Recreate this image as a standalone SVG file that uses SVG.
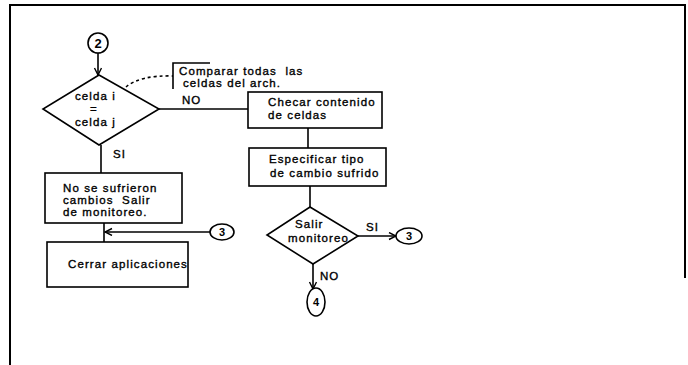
<svg xmlns="http://www.w3.org/2000/svg" width="688" height="365" viewBox="0 0 688 365">
<defs>
<style>
.ln{stroke:#000;stroke-width:1.6;fill:none}
.sh{stroke:#000;stroke-width:1.6;fill:#fff}
.t{font-family:"Liberation Sans",Arial,sans-serif;font-size:11.5px;letter-spacing:1.1px;fill:#000;stroke:#000;stroke-width:0.35}
.lb{font-family:"Liberation Sans",Arial,sans-serif;font-size:11.5px;letter-spacing:1px;fill:#000;stroke:#000;stroke-width:0.35}
.c{font-family:"Liberation Sans",Arial,sans-serif;font-weight:bold;fill:#000;text-anchor:middle}
</style>
<marker id="ar" markerWidth="9" markerHeight="9" refX="8" refY="4" orient="auto" markerUnits="userSpaceOnUse">
<path d="M1,0.5 L8,4 L1,7.5" fill="none" stroke="#000" stroke-width="1.4"/>
</marker>
</defs>
<rect width="688" height="365" fill="#fff"/>
<path d="M10,365 V5 H685 V278" fill="none" stroke="#000" stroke-width="2"/>

<g id="connectors">
<line class="ln" x1="98" y1="53" x2="98" y2="75" marker-end="url(#ar)"/>
<line class="ln" x1="159" y1="109" x2="248" y2="109"/>
<path class="ln" d="M126,87 Q140,75 173,76" stroke-dasharray="3,3" stroke-width="1.2"/>
<line class="ln" x1="308" y1="128" x2="308" y2="148"/>
<line class="ln" x1="310" y1="186" x2="310" y2="207"/>
<line class="ln" x1="358" y1="236" x2="396" y2="236" marker-end="url(#ar)"/>
<line class="ln" x1="313" y1="264" x2="313" y2="289" marker-end="url(#ar)"/>
<line class="ln" x1="101" y1="145" x2="101" y2="173"/>
<line class="ln" x1="104" y1="223" x2="104" y2="242"/>
<line class="ln" x1="210" y1="232" x2="105" y2="232" marker-end="url(#ar)"/>
<text class="lb" x="182" y="104">NO</text>
<text class="lb" x="113" y="158">SI</text>
<text class="lb" x="366" y="231">SI</text>
<text class="lb" x="320" y="280">NO</text>
</g>

<g id="n2">
<circle class="sh" cx="98" cy="43" r="10"/>
<text class="c" x="98" y="48" font-size="13">2</text>
</g>

<g id="d1">
<polygon class="sh" points="99,75 159,109 99,145 43,109"/>
<text class="t" x="75" y="100">celda i</text>
<text class="t" x="90" y="113">=</text>
<text class="t" x="75" y="126">celda j</text>
</g>

<g id="note">
<path class="ln" d="M210,63 H173 V89" stroke-width="1.3"/>
<text class="t" x="179" y="75" style="white-space:pre">Comparar todas  las</text>
<text class="t" x="183" y="87">celdas del arch.</text>
</g>

<g id="b1">
<rect class="sh" x="248" y="92" width="134" height="36"/>
<text class="t" x="268" y="106">Checar contenido</text>
<text class="t" x="268" y="119">de celdas</text>
</g>

<g id="b2">
<rect class="sh" x="249" y="148" width="137" height="38"/>
<text class="t" x="269" y="163">Especificar tipo</text>
<text class="t" x="270" y="177">de cambio sufrido</text>
</g>

<g id="d2">
<polygon class="sh" points="310,207 358,236 313,264 267,235"/>
<text class="t" x="295" y="228">Salir</text>
<text class="t" x="288" y="242" letter-spacing="0.6">monitoreo</text>
</g>

<g id="n3b">
<ellipse class="sh" cx="409" cy="236" rx="13" ry="8"/>
<text class="c" x="409" y="240" font-size="11">3</text>
</g>

<g id="n4">
<ellipse class="sh" cx="316" cy="302" rx="9" ry="14"/>
<text class="c" x="316" y="306" font-size="11">4</text>
</g>

<g id="b3">
<rect class="sh" x="45" y="173" width="137" height="50"/>
<text class="t" x="63" y="192">No se sufrieron</text>
<text class="t" x="63" y="204" style="white-space:pre">cambios  Salir</text>
<text class="t" x="63" y="216">de monitoreo.</text>
</g>

<g id="n3a">
<ellipse class="sh" cx="222" cy="232" rx="12" ry="8"/>
<text class="c" x="222" y="236" font-size="11">3</text>
</g>

<g id="b4">
<rect class="sh" x="47" y="242" width="141" height="45"/>
<text class="t" x="68" y="268">Cerrar aplicaciones</text>
</g>
</svg>
